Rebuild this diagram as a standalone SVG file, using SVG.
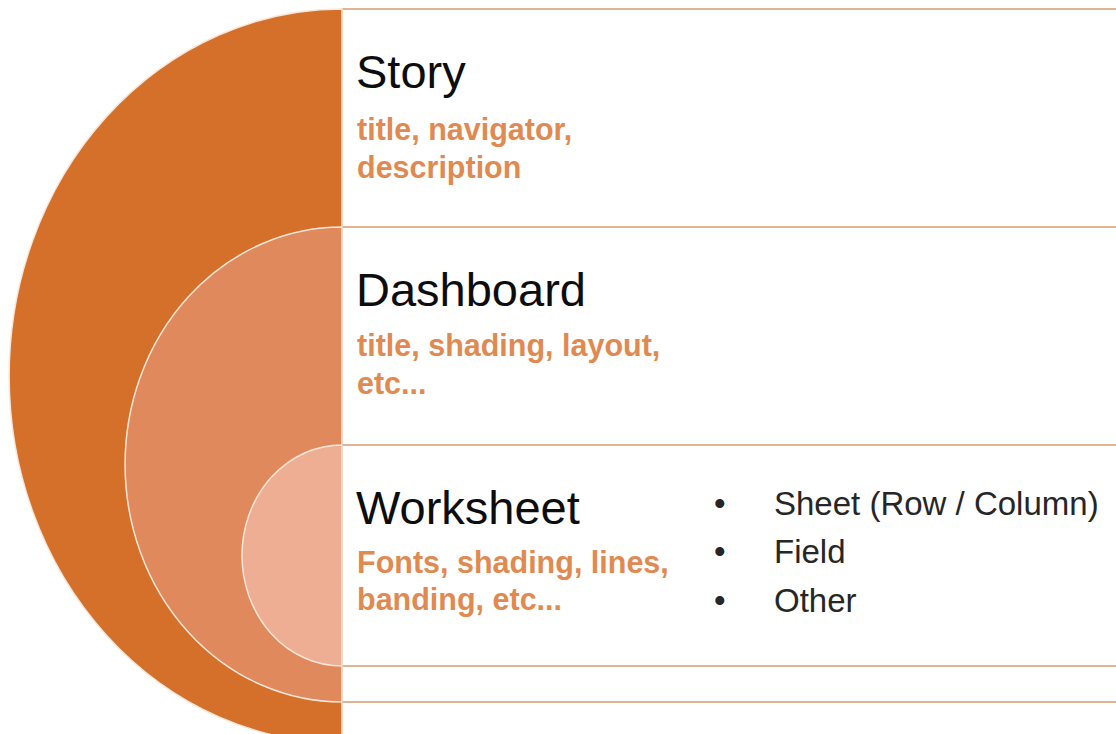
<svg xmlns="http://www.w3.org/2000/svg" width="1116" height="734" viewBox="0 0 1116 734">
  <style>
    .box { fill: #ffffff; stroke: #DDA07C; stroke-width: 1.6; }
    .ring { stroke: #FBE6D8; stroke-width: 1.5; }
    .title { font-family: "Liberation Sans", Arial, sans-serif; font-size: 47px; fill: #0d0d0d; }
    .sub { font-family: "Liberation Sans", Arial, sans-serif; font-size: 30.5px; font-weight: bold; fill: #E08A52; }
    .bul { font-family: "Liberation Sans", Arial, sans-serif; font-size: 33px; fill: #262626; }
  </style>
  <rect width="1116" height="734" fill="#ffffff"/>
  <g id="story">
    <rect class="box" x="342" y="9" width="800" height="734"/>
    <path class="ring" d="M342 9 A333 367 0 0 0 342 743 Z" fill="#D5702B"/>
    <text class="title" x="356" y="88">Story</text>
    <text class="sub" x="357" y="140">title, navigator,</text>
    <text class="sub" x="357" y="178">description</text>
  </g>
  <g id="dashboard">
    <rect class="box" x="342" y="227" width="800" height="475"/>
    <path class="ring" d="M342 227 A217 237.5 0 0 0 342 702 Z" fill="#E0895D"/>
    <text class="title" x="356" y="306">Dashboard</text>
    <text class="sub" x="357" y="356">title, shading, layout,</text>
    <text class="sub" x="357" y="394">etc...</text>
  </g>
  <g id="worksheet">
    <rect class="box" x="342" y="445" width="800" height="221"/>
    <path class="ring" d="M342 445 A100 110.5 0 0 0 342 666 Z" fill="#EEAE94"/>
    <text class="title" x="356" y="524">Worksheet</text>
    <text class="sub" x="357" y="573">Fonts, shading, lines,</text>
    <text class="sub" x="357" y="610">banding, etc...</text>
    <g id="worksheet-items">
      <text class="bul" x="714" y="515">•</text>
      <text class="bul" x="774" y="515">Sheet (Row / Column)</text>
      <text class="bul" x="714" y="563">•</text>
      <text class="bul" x="774" y="563">Field</text>
      <text class="bul" x="714" y="612">•</text>
      <text class="bul" x="774" y="612">Other</text>
    </g>
  </g>
  <g id="connectors"/>
</svg>
